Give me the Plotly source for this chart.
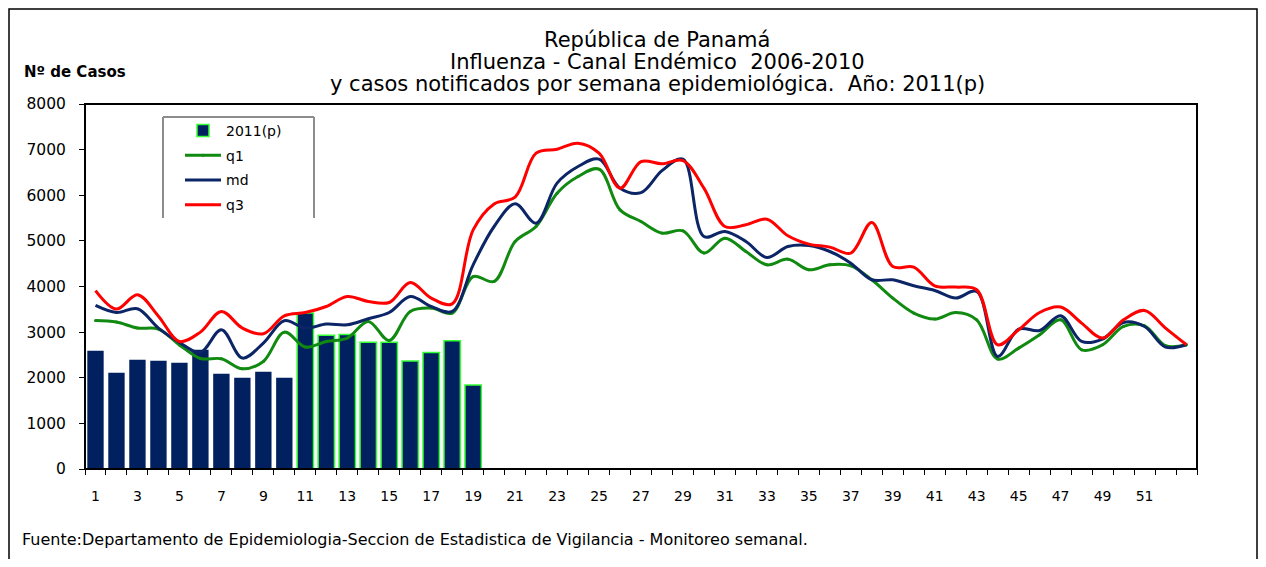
import plotly.graph_objects as go

# semanas epidemiologicas
weeks = list(range(1, 54))

# casos notificados 2011 (p), semanas 1-19
cases_2011 = [2590, 2110, 2395, 2375, 2330, 2615, 2090, 2000, 2130, 2000,
              3420, 2930, 2950, 2780, 2780, 2365, 2555, 2810, 1840]

q1 = [3255, 3220, 3089, 3067, 2720, 2423, 2416, 2197, 2357, 3000,
      2672, 2795, 2870, 3234, 2817, 3453, 3527, 3417, 4219, 4110,
      4986, 5315, 6046, 6410, 6572, 5680, 5424, 5170, 5220, 4732,
      5060, 4767, 4475, 4600, 4366, 4475, 4453, 4147, 3746, 3417,
      3286, 3430, 3270, 2410, 2650, 2942, 3270, 2613, 2723, 3124,
      3139, 2701, 2723]

md = [3585, 3430, 3512, 3089, 2773, 2555, 3052, 2431, 2760, 3249,
      3089, 3176, 3161, 3293, 3430, 3781, 3562, 3453, 4475, 5315,
      5811, 5388, 6265, 6629, 6791, 6155, 6059, 6540, 6791, 5096,
      5205, 4986, 4636, 4876, 4898, 4767, 4512, 4147, 4147, 4015,
      3912, 3746, 3890, 2467, 3067, 3036, 3358, 2795, 2848, 3212,
      3124, 2672, 2723]

q3 = [3910, 3505, 3818, 3350, 2795, 3000, 3453, 3089, 2964, 3358,
      3430, 3562, 3781, 3672, 3650, 4088, 3746, 3620, 5240, 5810,
      5960, 6922, 7010, 7141, 6922, 6155, 6738, 6688, 6760, 6155,
      5315, 5352, 5476, 5111, 4929, 4863, 4732, 5402, 4438, 4425,
      4015, 3987, 3928, 2723, 3052, 3430, 3549, 3198, 2870, 3270,
      3475, 3089, 2723]

x_labels = [str(w) for w in weeks if w % 2 == 1 and w < 53]

NAVY = "#002060"
FONT = "DejaVu Sans"

# the page body has an 8px margin, so page pixels are shifted by OFF
OFF = 8
W, H = 1266 - 2 * OFF, 567 - 2 * OFF
# plot area in page pixels (left, right, top, bottom)
L, R, T, B = 85, 1197, 104, 469

def px(x):
    return (x - L) / (R - L)

def py(y):
    return (B - y) / (B - T)

fig = go.Figure()

split = 10
fig.add_trace(go.Bar(
    x=weeks[:split], y=cases_2011[:split], name="2011(p)",
    marker=dict(color=NAVY, line=dict(width=0)),
    showlegend=False, legendgroup="a"))
fig.add_trace(go.Bar(
    x=weeks[split:len(cases_2011)], y=cases_2011[split:], name="2011(p)",
    marker=dict(color=NAVY, line=dict(color="#33ff33", width=1.5)),
    legendgroup="a"))

fig.add_trace(go.Scatter(
    x=weeks, y=q1, name="q1", mode="lines+markers",
    line=dict(color="#108a10", width=3, shape="spline", smoothing=1),
    marker=dict(size=3, color="#108a10"), legendgroup="b"))
fig.add_trace(go.Scatter(
    x=weeks, y=md, name="md", mode="lines",
    line=dict(color="#0b2566", width=3, shape="spline", smoothing=1),
    legendgroup="c"))
fig.add_trace(go.Scatter(
    x=weeks, y=q3, name="q3", mode="lines",
    line=dict(color="#ff0000", width=3, shape="spline", smoothing=1),
    legendgroup="d"))

titles = ["República de Panamá",
          "Influenza - Canal Endémico  2006-2010",
          "y casos notificados por semana epidemiológica.  Año: 2011(p)"]
annotations = []
for i, t in enumerate(titles):
    annotations.append(dict(
        text=t, x=px(657), y=py(40 + 22 * i), xref="paper", yref="paper",
        xanchor="center", yanchor="middle", showarrow=False,
        font=dict(family=FONT, size=21, color="black")))
annotations.append(dict(
    text="<b>Nº de Casos</b>", x=px(22), y=py(72), xref="paper", yref="paper",
    xanchor="left", yanchor="middle", showarrow=False,
    font=dict(family=FONT, size=15, color="black")))
annotations.append(dict(
    text="Fuente:Departamento de Epidemiologia-Seccion de Estadistica de Vigilancia - Monitoreo semanal.",
    x=px(20), y=py(539), xref="paper", yref="paper",
    xanchor="left", yanchor="middle", showarrow=False,
    font=dict(family=FONT, size=16, color="black")))

shapes = [
    # outer frame (bottom edge runs off the page)
    dict(type="rect", xref="paper", yref="paper",
         x0=px(9), x1=px(1257), y0=py(600), y1=py(9),
         line=dict(color="black", width=1.5), layer="below"),
    # plot frame
    dict(type="rect", xref="paper", yref="paper", x0=0, x1=1, y0=0, y1=1,
         line=dict(color="black", width=2)),
    # legend box (top, left, right)
    dict(type="line", xref="paper", yref="paper",
         x0=px(163), x1=px(314), y0=py(117), y1=py(117),
         line=dict(color="#8c8c8c", width=2)),
    dict(type="line", xref="paper", yref="paper",
         x0=px(163), x1=px(163), y0=py(117), y1=py(218),
         line=dict(color="#8c8c8c", width=2)),
    dict(type="line", xref="paper", yref="paper",
         x0=px(314), x1=px(314), y0=py(117), y1=py(218),
         line=dict(color="#8c8c8c", width=2)),
]

fig.update_layout(
    width=W, height=H,
    margin=dict(l=L - OFF, r=W + OFF - R, t=T - OFF, b=H + OFF - B),
    paper_bgcolor="white", plot_bgcolor="white",
    barmode="overlay", bargap=0.22,
    font=dict(family=FONT, color="black"),
    annotations=annotations, shapes=shapes,
    legend=dict(x=px(180), y=py(115), xanchor="left", yanchor="top",
                bgcolor="rgba(0,0,0,0)", font=dict(family=FONT, size=14),
                tracegroupgap=3.5, traceorder="grouped", itemwidth=36),
)

fig.update_xaxes(
    range=[0.5, 53.5], tickmode="array",
    tickvals=[int(v) for v in x_labels], ticktext=x_labels,
    ticks="", ticklabelstandoff=14,
    tickfont=dict(family=FONT, size=14),
    showline=True, linecolor="black", linewidth=1, showgrid=False, zeroline=False,
    minor=dict(tick0=0.5, dtick=1, ticks="outside", ticklen=5,
               tickcolor="black", showgrid=False))
fig.update_yaxes(
    range=[0, 8000], dtick=1000, ticks="outside", ticklen=5, tickcolor="black",
    ticklabelstandoff=10, tickfont=dict(family=FONT, size=15.5),
    showline=True, linecolor="black", linewidth=1, showgrid=False, zeroline=False)

fig.write_html("out.html")
